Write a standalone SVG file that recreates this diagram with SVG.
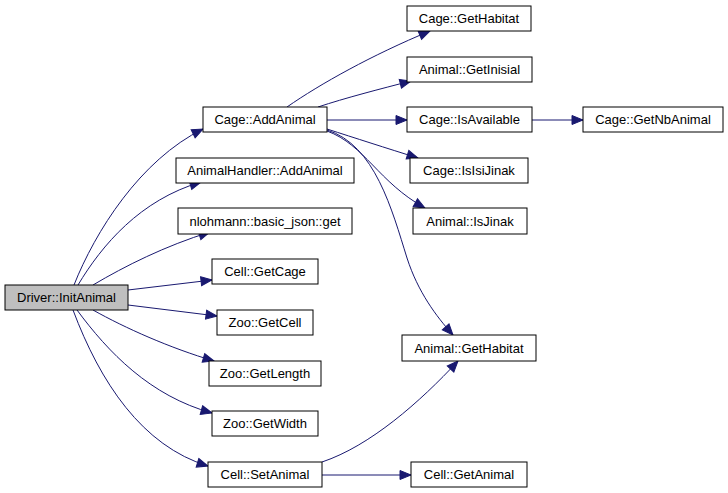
<svg xmlns="http://www.w3.org/2000/svg" width="728" height="493" viewBox="0 0 728 493">
<defs>
<marker id="arr" markerWidth="14" markerHeight="11" refX="11" refY="4.5" orient="auto" markerUnits="userSpaceOnUse" overflow="visible">
<path d="M0,0 L11,4.5 L0,9 z" fill="#191970" stroke="#191970" stroke-width="1"/>
</marker>
</defs>
<style>
.n rect{fill:#ffffff;stroke:#000000;stroke-width:1}
.n.root rect{fill:#bfbfbf}
.n text{font-family:"Liberation Sans",Arial,Helvetica,sans-serif;font-size:13px;fill:#000000;text-anchor:middle}
.e path{fill:none;stroke:#191970;stroke-width:1;marker-end:url(#arr)}
</style>
<rect width="728" height="493" fill="#ffffff"/>
<g id="edges" class="e">
<path d="M74,285 C95,232 140,160 203,129"/>
<path d="M78,285 C102,245 140,200 201,182"/>
<path d="M93,285 C125,266 165,246 210,232"/>
<path d="M128,290 L212,280"/>
<path d="M128,305 L217,316"/>
<path d="M93,310 C125,328 170,348 214,361"/>
<path d="M77,310 C108,352 150,396 212,413"/>
<path d="M73,310 C100,382 142,446 208,466"/>
<path d="M287,107 C320,84 372,55 430,31"/>
<path d="M318,107 C345,98 380,89 411,81"/>
<path d="M327,120 L407,120"/>
<path d="M327,129 C355,138 386,148 418,158"/>
<path d="M327,131 C365,145 378,182 425,208"/>
<path d="M327,130 C375,145 392,210 407,258 C418,292 436,316 453,335"/>
<path d="M532,120 L583,120"/>
<path d="M322,462 C370,446 420,402 458,361"/>
<path d="M322,475 L411,475"/>
</g>
<g id="n_driver_initanimal" class="n root"><rect x="5" y="285" width="123" height="25"/><text x="66.5" y="302">Driver::InitAnimal</text></g>
<g id="n_cage_addanimal" class="n"><rect x="203" y="107" width="124" height="25"/><text x="265" y="124">Cage::AddAnimal</text></g>
<g id="n_animalhandler_addanimal" class="n"><rect x="176" y="158" width="178" height="25"/><text x="265" y="175">AnimalHandler::AddAnimal</text></g>
<g id="n_basic_json_get" class="n"><rect x="178" y="208" width="174" height="26"/><text x="265" y="226">nlohmann::basic_json::get</text></g>
<g id="n_cell_getcage" class="n"><rect x="212" y="259" width="106" height="25"/><text x="265" y="276">Cell::GetCage</text></g>
<g id="n_zoo_getcell" class="n"><rect x="217" y="310" width="96" height="25"/><text x="265" y="327">Zoo::GetCell</text></g>
<g id="n_zoo_getlength" class="n"><rect x="209" y="361" width="112" height="25"/><text x="265" y="378">Zoo::GetLength</text></g>
<g id="n_zoo_getwidth" class="n"><rect x="212" y="411" width="106" height="25"/><text x="265" y="428">Zoo::GetWidth</text></g>
<g id="n_cell_setanimal" class="n"><rect x="208" y="462" width="114" height="25"/><text x="265" y="479">Cell::SetAnimal</text></g>
<g id="n_cage_gethabitat" class="n"><rect x="407" y="6" width="124" height="25"/><text x="469" y="23">Cage::GetHabitat</text></g>
<g id="n_animal_getinisial" class="n"><rect x="407" y="57" width="125" height="25"/><text x="469.5" y="74">Animal::GetInisial</text></g>
<g id="n_cage_isavailable" class="n"><rect x="407" y="107" width="125" height="25"/><text x="469.5" y="124">Cage::IsAvailable</text></g>
<g id="n_cage_getnbanimal" class="n"><rect x="583" y="107" width="140" height="25"/><text x="653" y="124">Cage::GetNbAnimal</text></g>
<g id="n_cage_isisijinak" class="n"><rect x="410" y="158" width="118" height="25"/><text x="469" y="175">Cage::IsIsiJinak</text></g>
<g id="n_animal_isjinak" class="n"><rect x="413" y="208" width="114" height="26"/><text x="470" y="226">Animal::IsJinak</text></g>
<g id="n_animal_gethabitat" class="n"><rect x="402" y="335" width="134" height="26"/><text x="469" y="353">Animal::GetHabitat</text></g>
<g id="n_cell_getanimal" class="n"><rect x="411" y="462" width="116" height="25"/><text x="469" y="479">Cell::GetAnimal</text></g>
</svg>
